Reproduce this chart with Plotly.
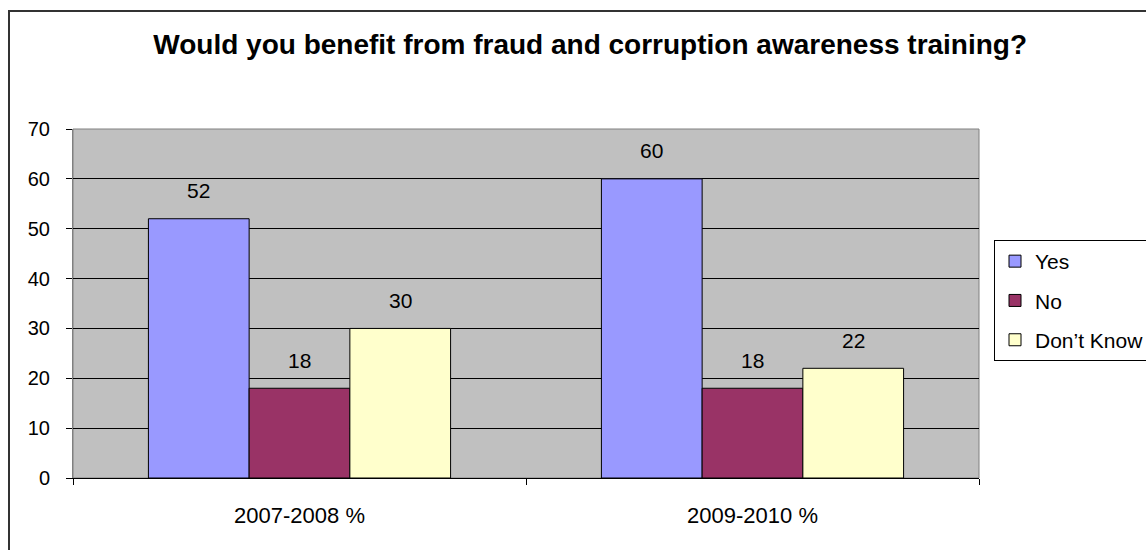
import plotly.graph_objects as go

# Survey responses, percent of respondents
categories = ["2007-2008 %", "2009-2010 %"]
series_names = ["Yes", "No", "Don\u2019t Know"]
yes_vals = [52, 60]
no_vals = [18, 18]
dont_know_vals = [30, 22]
series_values = [yes_vals, no_vals, dont_know_vals]
series_colors = ["#9999FF", "#993366", "#FFFFCC"]
y_ticks = [0, 10, 20, 30, 40, 50, 60, 70]

FONT = "Arial, Liberation Sans, sans-serif"
W, H = 1146, 550
ML, MR, MT, MB = 73, 167, 129, 72
BARGAP = 0.333

fig = go.Figure()
for i, (name, vals, color) in enumerate(zip(series_names, series_values, series_colors)):
    fig.add_trace(go.Bar(
        name=name, x=categories, y=vals,
        marker=dict(color=color, line=dict(color="black", width=1)),
        legendgroup=name,
    ))

# Value labels above each bar
n = len(series_names)
bar_w = (1 - BARGAP) / n
for i, vals in enumerate(series_values):
    for j, v in enumerate(vals):
        fig.add_annotation(
            x=j + (i - (n - 1) / 2) * bar_w, y=v, xref="x", yref="y",
            text=str(v), showarrow=False, yanchor="middle", yshift=28,
            font=dict(family=FONT, size=21, color="black"),
        )

pw = W - ML - MR
ph = H - MT - MB
# Outer chart frame
fig.add_shape(
    type="rect", xref="paper", yref="paper", layer="above",
    x0=(9 - ML) / pw, x1=(W + 10 - ML) / pw,
    y0=-(H + 10 - (H - MB)) / ph, y1=((H - MB) - 11) / ph,
    line=dict(color="#333333", width=2), fillcolor="rgba(0,0,0,0)",
)
# Plot area border
fig.add_shape(
    type="rect", xref="paper", yref="paper", layer="below",
    x0=0, x1=1, y0=0, y1=1,
    line=dict(color="#808080", width=1), fillcolor="#C0C0C0",
)

fig.update_layout(
    width=W, height=H,
    margin=dict(l=ML, r=MR, t=MT, b=MB, autoexpand=False),
    paper_bgcolor="white", plot_bgcolor="rgba(0,0,0,0)",
    barmode="group", bargap=BARGAP, bargroupgap=0,
    title=dict(
        text="<b>Would you benefit from fraud and corruption awareness training?</b>",
        x=0.515, xref="container", xanchor="center",
        y=1 - 44 / H, yref="container", yanchor="middle",
        font=dict(family=FONT, size=28, color="black"),
    ),
    legend=dict(
        x=(994 - ML) / pw, xanchor="left", y=(H - MB - 240) / ph, yanchor="top",
        bordercolor="black", borderwidth=1, bgcolor="white",
        font=dict(family=FONT, size=21, color="black"),
        tracegroupgap=9, traceorder="grouped",
    ),
    showlegend=True,
)
fig.update_xaxes(
    showgrid=False, showline=True, linecolor="black", linewidth=1,
    ticks="outside", tickson="boundaries", ticklen=6, tickcolor="black",
    ticklabelstandoff=18,
    tickfont=dict(family=FONT, size=22, color="black"),
)
fig.update_yaxes(
    range=[0, 70], tickvals=y_ticks,
    showgrid=True, gridcolor="black", gridwidth=1, zeroline=False,
    showline=True, linecolor="#808080", linewidth=1,
    ticks="outside", ticklen=6, tickcolor="black", ticklabelstandoff=12,
    tickfont=dict(family=FONT, size=20, color="black"),
)

fig.write_html("out.html")
